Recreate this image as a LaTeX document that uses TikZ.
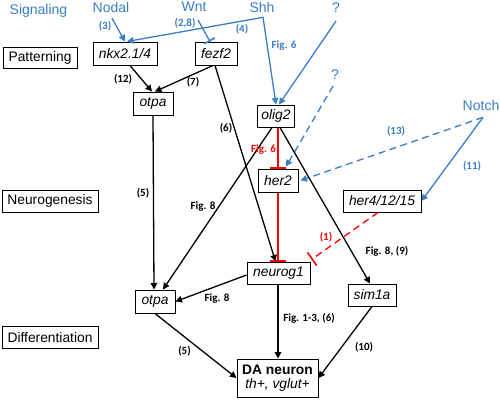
\documentclass[tikz,border=0pt]{standalone}
\usepackage{fontspec}
\setmainfont{Liberation Sans}
\newfontfamily\calfont{Carlito}
\usetikzlibrary{arrows.meta,calc}
\definecolor{myblue}{RGB}{58,126,196}
\definecolor{myred}{RGB}{255,0,0}
\begin{document}
\begin{tikzpicture}[x=1pt,y=-1pt,
  box/.style={draw, line width=1pt, inner sep=0pt, align=center, font=\fontsize{13.8}{15}\selectfont},
  gene/.style={box, font=\fontsize{13.8}{15}\selectfont\itshape},
  sig/.style={text=myblue, inner sep=0pt, font=\fontsize{14}{16}\selectfont},
  lbl/.style={inner sep=0pt, font=\calfont\fontsize{11}{12}\selectfont\bfseries},
  blbl/.style={lbl, text=myblue},
  rlbl/.style={lbl, text=myred},
  conn/.style={line width=1.3pt, -{Triangle[length=6.5pt,width=6.5pt]}},
  bconn/.style={conn, draw=myblue},
  inh/.style={line width=1.3pt, -{Bar[width=16pt,line width=1.6pt]}},
  dsh/.style={dash pattern=on 7pt off 4.5pt}
]
\useasboundingbox (0,0) rectangle (500,400);

% signals
\node[sig] (signaling) at (38.5,11) {Signaling};
\node[sig] (nodal) at (111,7) {Nodal};
\node[sig] (wnt) at (194,7) {Wnt};
\node[sig] (shh) at (262,7) {Shh};
\node[sig] (q1) at (336,8) {?};
\node[sig] (q2) at (335,75) {?};
\node[sig] (notch) at (481,105) {Notch};

% levels
\node[box, minimum width=74pt, minimum height=21pt] (patt) at (40,57.5) {Patterning};
\node[box, minimum width=96pt, minimum height=22pt] (neuro) at (50,201) {Neurogenesis};
\node[box, minimum width=96pt, minimum height=22pt] (diff) at (50,337.5) {Differentiation};

% genes
\node[gene, minimum width=64pt, minimum height=23pt] (nkx) at (125,53.5) {nkx2.1/4};
\node[gene, minimum width=42pt, minimum height=23pt] (fezf2) at (216,53.5) {fezf2};
\node[gene, minimum width=40pt, minimum height=23pt] (otpa1) at (153,103.5) {otpa};
\node[gene, minimum width=37pt, minimum height=22pt] (olig2) at (276,116) {olig2};
\node[gene, minimum width=40pt, minimum height=23pt] (her2) at (278,180.5) {her2};
\node[gene, minimum width=78pt, minimum height=22pt] (her4) at (382,201) {her4/12/15};
\node[gene, minimum width=63pt, minimum height=22pt] (neurog1) at (278.5,273) {neurog1};
\node[gene, minimum width=48pt, minimum height=22pt] (sim1a) at (372,295) {sim1a};
\node[gene, minimum width=40pt, minimum height=23pt] (otpa2) at (155,301.5) {otpa};
\node[box, minimum width=81pt, minimum height=38pt] (da) at (277.5,378) {\textbf{DA neuron}\\[-1pt]\textit{th+, vglut+}};

% coordinates
\coordinate (shhc) at ($(shh.south)+(1,5)$);
\coordinate (notchc) at ($(notch.south)+(2,7)$);

% blue connectors
\draw[bconn] ($(nodal.south)+(1,6)$) -- (nkx.north);
\draw[line width=1.3pt, draw=myblue, -{Bar[width=12pt,line width=1.6pt]}] ($(wnt.south)+(4,8)$) -- ($(fezf2.north)+(-6,0)$);
\draw[line width=1.3pt, draw=myblue, {Triangle[length=6.5pt,width=6.5pt]}-{Triangle[length=6.5pt,width=6.5pt]}] ($(nkx.north)+(2,0)$) -- (shhc) -- (olig2.north);
\draw[bconn] ($(q1.south)+(0,8)$) -- ($(olig2.north)+(3,0)$);
\draw[bconn, dsh] ($(q2.south)+(-2,6)$) -- ($(her2.north)+(8,-2)$);
\draw[bconn, dsh] (notchc) -- ($(her2.east)+(2,0)$);
\draw[bconn] (notchc) -- (her4.east);

% black connectors
\draw[conn] ($(nkx.south)+(5,0)$) -- ($(otpa1.north)+(-1,0)$);
\draw[conn] ($(fezf2.south)+(-3,0)$) -- ($(otpa1.north)+(2,0)$);
\draw[conn] ($(fezf2.south)+(-1,0)$) -- ($(neurog1.north)+(-3,0)$);
\draw[conn] (otpa1.south) -- ($(otpa2.north)+(-1,0)$);
\draw[conn] ($(olig2.south)+(-4,0)$) -- ($(otpa2.north)+(8,0)$);
\draw[conn] ($(olig2.south)+(4,0)$) -- ($(sim1a.north)+(-2,0)$);
\draw[conn] ($(neurog1.west)+(0,2)$) -- (otpa2.east);
\draw[conn] (otpa2.south) -- (da.west);
\draw[conn] (neurog1.south -| her2.south) -- (her2.south |- da.north);
\draw[conn] (sim1a.south) -- (da.east);

% red inhibitions
\draw[inh, draw=myred] (olig2.south -| her2.north) -- (her2.north);
\draw[inh, draw=myred] (her2.south) -- (her2.south |- neurog1.north);
\draw[inh, draw=myred, dsh] ($(her4.south)+(-4,0)$) -- ($(neurog1.north east)+(1,-2)$);

% labels
\node[blbl] at (105,26) {(3)};
\node[blbl] at (185,23) {(2,8)};
\node[blbl] at (242,29) {(4)};
\node[blbl] at (284,45.5) {Fig. 6};
\node[blbl] at (396,131) {(13)};
\node[blbl] at (472,166) {(11)};
\node[lbl] at (123,79) {(12)};
\node[lbl] at (193,82) {(7)};
\node[lbl] at (226,128) {(6)};
\node[lbl] at (143,193) {(5)};
\node[lbl] at (203,207) {Fig. 8};
\node[rlbl] at (263.5,150) {Fig. 6};
\node[rlbl] at (326,237) {(1)};
\node[lbl] at (387,251.5) {Fig. 8, (9)};
\node[lbl] at (217,299) {Fig. 8};
\node[lbl] at (309,318) {Fig. 1-3, (6)};
\node[lbl] at (184.5,351) {(5)};
\node[lbl] at (364,347) {(10)};
\end{tikzpicture}
\end{document}
